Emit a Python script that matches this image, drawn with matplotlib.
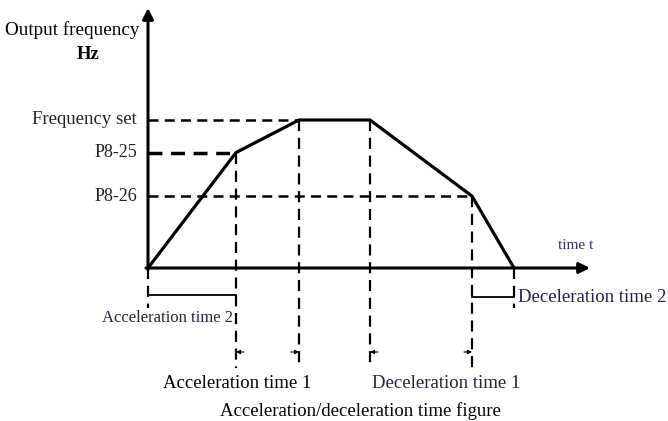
import matplotlib
matplotlib.use("Agg")
import matplotlib.pyplot as plt

# ---- data (schematic values) ----
# key time instants of the frequency profile (arbitrary time units)
times = [0.0, 8.8, 15.1, 22.2, 32.4, 36.6]
# output frequency at those instants (Hz)
freq = [0.0, 39.0, 50.0, 50.0, 24.3, 0.0]
level_labels = ["Frequency set", "P8-25", "P8-26"]
level_values = [50.0, 39.0, 24.3]
level_ends = [15.1, 8.8, 32.4]   # where each reference dashed line stops

# ---- figure in "pixel-like" data frame ----
W, H = 668, 421
fig = plt.figure(figsize=(W / 100, H / 100), dpi=100)
ax = fig.add_axes([0, 0, 1, 1])
ax.axis("off")
# scale: 10 px per time unit, 2.96 px per Hz, origin at (148, 268) px
x0px, y0px, sx, sy = 148, 268, 10.0, 2.96
ax.set_xlim(-x0px / sx, (W - x0px) / sx)
ax.set_ylim(-(H - y0px) / sy, y0px / sy)

def Y(py):
    return (y0px - py) / sy

def X(px):
    return (px - x0px) / sx

serif = ["Liberation Serif", "DejaVu Serif"]
fs = 13.5

# axes with arrows
ax.annotate("", xy=(X(590), 0), xytext=(X(146), 0),
            arrowprops=dict(arrowstyle="-|>", lw=2.2, color="k",
                            mutation_scale=16, shrinkA=0, shrinkB=0))
ax.annotate("", xy=(0, Y(8)), xytext=(0, Y(270)),
            arrowprops=dict(arrowstyle="-|>", lw=2.2, color="k",
                            mutation_scale=16, shrinkA=0, shrinkB=0))

# frequency profile
ax.plot(times, freq, color="k", lw=2.3, solid_joinstyle="miter", zorder=5)

# horizontal reference dashed lines + labels
for lab, val, end in zip(level_labels, level_values, level_ends):
    ax.plot([0, end], [val, val], color="k", lw=1.8 if lab != "P8-25" else 2.5,
            ls=(0, (4, 2.5)), zorder=3)
    ax.text(X(137), val, lab, ha="right", va="center",
            fontsize=fs if lab == "Frequency set" else fs - 0.5,
            family=serif, color="#222222")

# vertical dashed lines
vdash = (0, (5, 3))
for t, f in zip(times[1:5], freq[1:5]):
    ax.plot([t, t], [f, Y(368)], color="k", lw=1.6, ls=vdash, zorder=2)
for t in (times[0], times[5]):
    ax.plot([t, t], [0, Y(308)], color="k", lw=1.6, ls=vdash, zorder=2)

# brackets for acceleration/deceleration time 2
ax.plot([times[0], times[1]], [Y(295), Y(295)], color="k", lw=1.3)
ax.plot([times[4], times[5]], [Y(297), Y(297)], color="k", lw=1.3)

# small arrows marking acceleration/deceleration time 1
ya = Y(352)
for t, d in [(times[1], 1), (times[2], -1), (times[3], 1), (times[4], -1)]:
    ax.annotate("", xy=(t, ya), xytext=(t + d * 0.8, ya),
                arrowprops=dict(arrowstyle="-|>", lw=0.8, color="k",
                                mutation_scale=6, shrinkA=0, shrinkB=0))

# texts
ax.text(X(5), Y(30), "Output frequency", ha="left", va="center",
        fontsize=fs + 0.3, family=serif)
ax.text(X(88), Y(55), "Hz", ha="center", va="center", fontsize=fs,
        family=serif, fontweight="bold")
ax.text(X(576), Y(246), "time t", ha="center", va="center",
        fontsize=11, family=serif, color="#333366")
ax.text(X(233), Y(318), "Acceleration time 2", ha="right", va="center",
        fontsize=12, family=serif, color="#222244")
ax.text(X(518), Y(298), "Deceleration time 2", ha="left", va="center",
        fontsize=fs, family=serif, color="#222244")
ax.text(X(237), Y(383), "Acceleration time 1", ha="center", va="center",
        fontsize=fs, family=serif)
ax.text(X(446), Y(383), "Deceleration time 1", ha="center", va="center",
        fontsize=fs, family=serif, color="#222244")
ax.text(X(360), Y(411), "Acceleration/deceleration time figure",
        ha="center", va="center", fontsize=fs, family=serif)

fig.savefig("out.png", dpi=100, facecolor="white")
